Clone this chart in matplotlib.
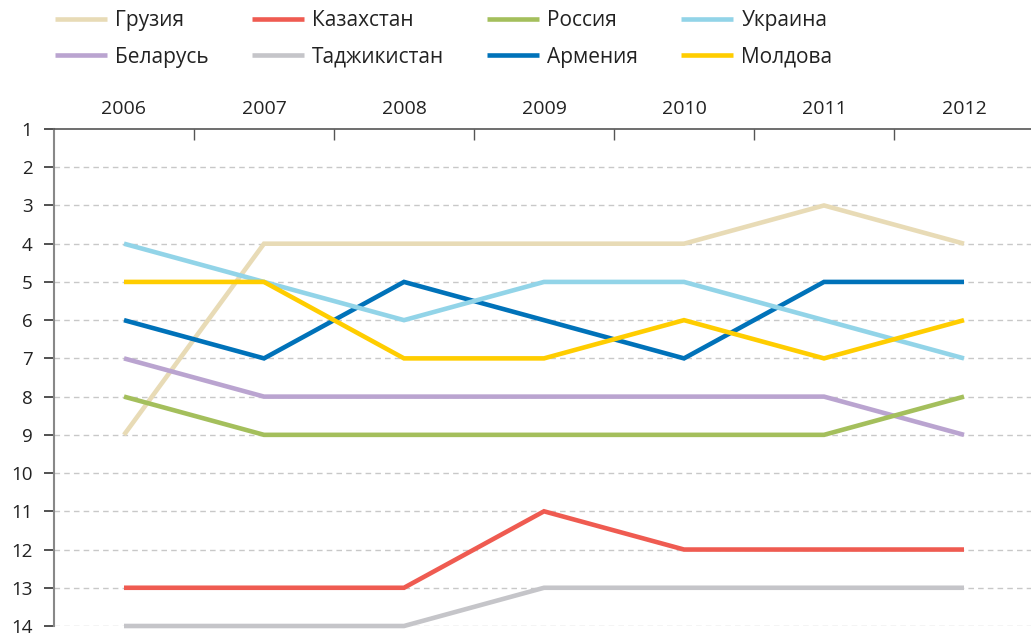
import matplotlib.pyplot as plt
from matplotlib.ticker import FixedLocator

years = ['2006', '2007', '2008', '2009', '2010', '2011', '2012']

# ranks per country (1 = top)
gruziya = [9, 4, 4, 4, 4, 3, 4]
belarus = [7, 8, 8, 8, 8, 8, 9]
kazakhstan = [13, 13, 13, 11, 12, 12, 12]
tadzhikistan = [14, 14, 14, 13, 13, 13, 13]
rossiya = [8, 9, 9, 9, 9, 9, 8]
armeniya = [6, 7, 5, 6, 7, 5, 5]
ukraina = [4, 5, 6, 5, 5, 6, 7]
moldova = [5, 5, 7, 7, 6, 7, 6]

series = [
    ('Грузия', gruziya, '#e8dbb6'),
    ('Беларусь', belarus, '#baa4d0'),
    ('Казахстан', kazakhstan, '#ef5b51'),
    ('Таджикистан', tadzhikistan, '#c5c5c9'),
    ('Россия', rossiya, '#a4bf5c'),
    ('Армения', armeniya, '#0072b9'),
    ('Украина', ukraina, '#92d4e8'),
    ('Молдова', moldova, '#ffcd00'),
]

plt.rcParams['font.family'] = ['Open Sans', 'DejaVu Sans']

W, H = 1031, 635
fig = plt.figure(figsize=(W / 100, H / 100), dpi=100)
ax = fig.add_axes([54 / W, (H - 626) / H, (1034 - 54) / W, (626 - 129) / H])

x = list(range(len(years)))
handles = []
for name, vals, color in series:
    line, = ax.plot(x, vals, color=color, lw=3.3, label=name,
                    clip_on=False, solid_capstyle='butt', solid_joinstyle='miter')
    handles.append(line)

ax.set_xlim(-0.5, len(years) - 0.5)
ax.set_ylim(14, 1)

# grid
for v in range(2, 15):
    ax.axhline(v, color='#c8c8c8', lw=1, ls=(0, (4, 3)), zorder=0)

ax.yaxis.set_major_locator(FixedLocator(range(1, 15)))
ax.tick_params(axis='y', direction='out', length=7.5, width=1.2, color='#333333',
               labelsize=13.5, labelcolor='#222222', pad=8)

ax.xaxis.tick_top()
ax.set_xticks(x)
ax.set_xticklabels(years)
ax.set_xticks([i + 0.5 for i in x[:-1]], minor=True)
ax.tick_params(axis='x', which='major', length=0, labelsize=14,
               labelcolor='#222222', pad=8)
ax.tick_params(axis='x', which='minor', direction='in', length=8,
               width=1, color='#555555')

for s in ['right', 'bottom']:
    ax.spines[s].set_visible(False)
ax.spines['top'].set_color('#555555')
ax.spines['top'].set_linewidth(1.2)
ax.spines['left'].set_color('#888888')
ax.spines['left'].set_linewidth(1.5)

fig.legend(handles=handles, loc='upper left', bbox_to_anchor=(55 / W, 1 - 10 / H),
           ncol=4, frameon=False, fontsize=15, handlelength=2.5,
           handletextpad=0.4, columnspacing=2.05, labelspacing=0.75,
           borderpad=0, borderaxespad=0, labelcolor='#222222')

fig.savefig('out.png', dpi=100)
